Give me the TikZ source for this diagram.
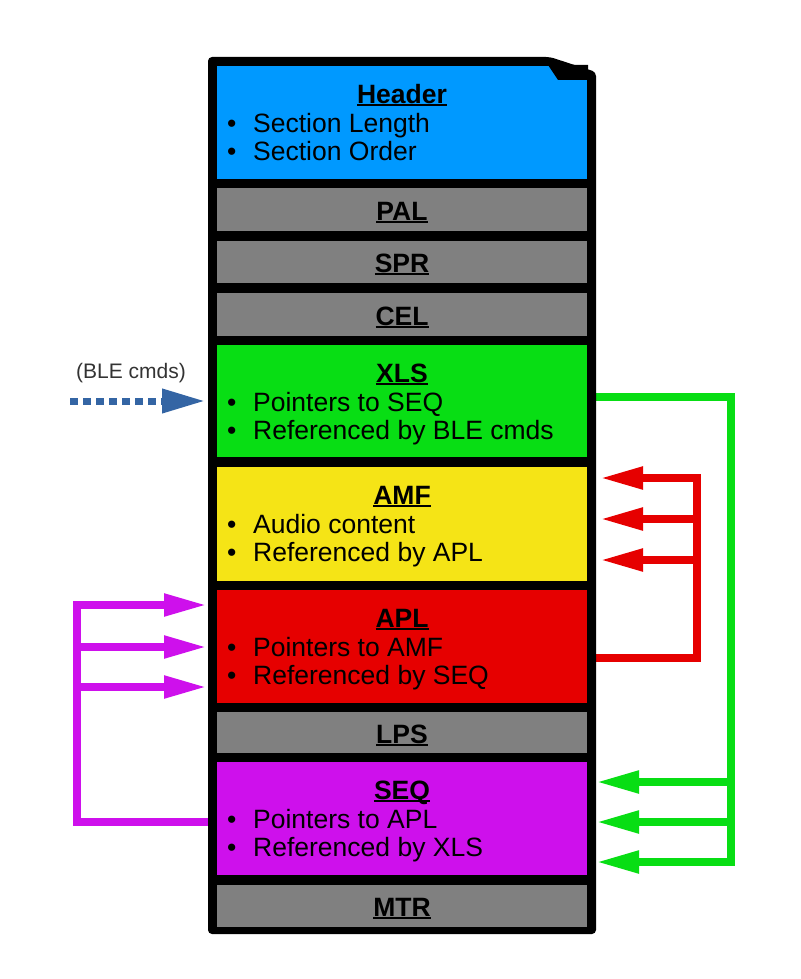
\documentclass[tikz,border=0pt]{standalone}
\usepackage{fontspec}
\setmainfont{Liberation Sans}
\usetikzlibrary{arrows.meta,calc}
\pgfdeclarelayer{bg}
\pgfsetlayers{bg,main}
\definecolor{hblue}{RGB}{0,153,255}
\definecolor{xgreen}{RGB}{8,222,20}
\definecolor{ayellow}{RGB}{245,228,22}
\definecolor{ared}{RGB}{230,0,0}
\definecolor{smag}{RGB}{206,16,236}
\definecolor{sgray}{RGB}{128,128,128}
\definecolor{bleblue}{RGB}{52,101,164}
\definecolor{lblgray}{RGB}{51,51,51}
\newcommand{\myul}[1]{\setbox0\hbox{#1}\rlap{\rule[-3.2pt]{\wd0}{1.8pt}}\box0}
\newcommand{\bl}{\makebox[26pt][l]{•}}
\begin{document}
\begin{tikzpicture}[x=1pt,y=-1pt,
  sec/.style={draw=none, inner sep=0pt, outer sep=0pt, anchor=north west, minimum width=370pt},
  ttl/.style={anchor=base, inner sep=0pt, font=\fontsize{26.5}{30}\selectfont\bfseries},
  bul/.style={anchor=base west, inner sep=0pt, font=\fontsize{26.5}{30}\selectfont},
  conn/.style={line width=8pt, -{Triangle[length=43pt,width=21pt]}},
  garr/.style={conn, color=xgreen},
  rarr/.style={conn, color=ared},
  marr/.style={conn, color=smag}]
\useasboundingbox (0,0) rectangle (800,979);
% frame
\fill[black, rounded corners=4pt] (208,57) -- (550,57) -- (596,72) -- (596,934) -- (208,934) -- cycle;
% sections
\node[sec, fill=hblue, minimum height=113pt] (hdr) at (217,66) {};
\fill[black] (548,65) -- (588,65) -- (588,80) -- (558,80) -- cycle;
\node[sec, fill=sgray, minimum height=43pt] (pal) at (217,188) {};
\node[sec, fill=sgray, minimum height=42pt] (spr) at (217,241) {};
\node[sec, fill=sgray, minimum height=43pt] (cel) at (217,293) {};
\node[sec, fill=xgreen, minimum height=112pt] (xls) at (217,345) {};
\node[sec, fill=ayellow, minimum height=114pt] (amf) at (217,467) {};
\node[sec, fill=ared, minimum height=113pt] (apl) at (217,590) {};
\node[sec, fill=sgray, minimum height=41pt] (lps) at (217,712) {};
\node[sec, fill=smag, minimum height=113pt] (seq) at (217,762) {};
\node[sec, fill=sgray, minimum height=42pt] (mtr) at (217,885) {};
% texts
\node[ttl] (hdrT) at (402,103) {\myul{Header}};
\node[bul] (hdr1) at (227,132) {\bl Section Length};
\node[bul] (hdr2) at (227,160) {\bl Section Order};
\node[ttl] (palT) at (402,220) {\myul{PAL}};
\node[ttl] (sprT) at (402,272) {\myul{SPR}};
\node[ttl] (celT) at (402,325) {\myul{CEL}};
\node[ttl] (xlsT) at (402,382) {\myul{XLS}};
\node[bul] (xls1) at (227,411) {\bl Pointers to SEQ};
\node[bul] (xls2) at (227,439) {\bl Referenced by BLE cmds};
\node[ttl] (amfT) at (402,504) {\myul{AMF}};
\node[bul] (amf1) at (227,533) {\bl Audio content};
\node[bul] (amf2) at (227,561) {\bl Referenced by APL};
\node[ttl] (aplT) at (402,627) {\myul{APL}};
\node[bul] (apl1) at (227,656) {\bl Pointers to AMF};
\node[bul] (apl2) at (227,684) {\bl Referenced by SEQ};
\node[ttl] (lpsT) at (402,743) {\myul{LPS}};
\node[ttl] (seqT) at (402,799) {\myul{SEQ}};
\node[bul] (seq1) at (227,828) {\bl Pointers to APL};
\node[bul] (seq2) at (227,856) {\bl Referenced by XLS};
\node[ttl] (mtrT) at (402,916) {\myul{MTR}};
% BLE cmds
\node[inner sep=0pt, font=\fontsize{21}{24}\selectfont, text=lblgray] (blelbl) at (131,373) {(BLE cmds)};
\coordinate (ble) at (70,401);
\draw[line width=7pt, color=bleblue, dash pattern=on 8pt off 5pt,
  -{Triangle[length=43pt,width=23pt]}] (ble) -- ($(ble -| xls.west)+(-12,0)$);
% connectors
\coordinate (gc) at (731,862);
\coordinate (g1) at (731,782);
\coordinate (g2) at (731,822);
\coordinate (rc) at (697,478);
\coordinate (r2) at (697,519);
\coordinate (r3) at (697,560);
\coordinate (mc) at (77,605);
\coordinate (m2) at (77,647);
\coordinate (m3) at (77,687);
\begin{pgfonlayer}{bg}
\draw[garr] ([yshift=4pt]xls.east) -| (gc) -- ($(gc -| seq.east)+(9,0)$);
\draw[garr] (g1) -- ($(g1 -| seq.east)+(9,0)$);
\draw[garr] (g2) -- ($(g2 -| seq.east)+(9,0)$);
\draw[rarr] ([yshift=-11.5pt]apl.east) -| (rc) -- ($(rc -| amf.east)+(13,0)$);
\draw[rarr] (r2) -- ($(r2 -| amf.east)+(13,0)$);
\draw[rarr] (r3) -- ($(r3 -| amf.east)+(13,0)$);
\draw[marr] ([yshift=-3.5pt]seq.west) -| (mc) -- ($(mc -| apl.west)+(-10,0)$);
\draw[marr] (m2) -- ($(m2 -| apl.west)+(-10,0)$);
\draw[marr] (m3) -- ($(m3 -| apl.west)+(-10,0)$);
\end{pgfonlayer}
\end{tikzpicture}
\end{document}
